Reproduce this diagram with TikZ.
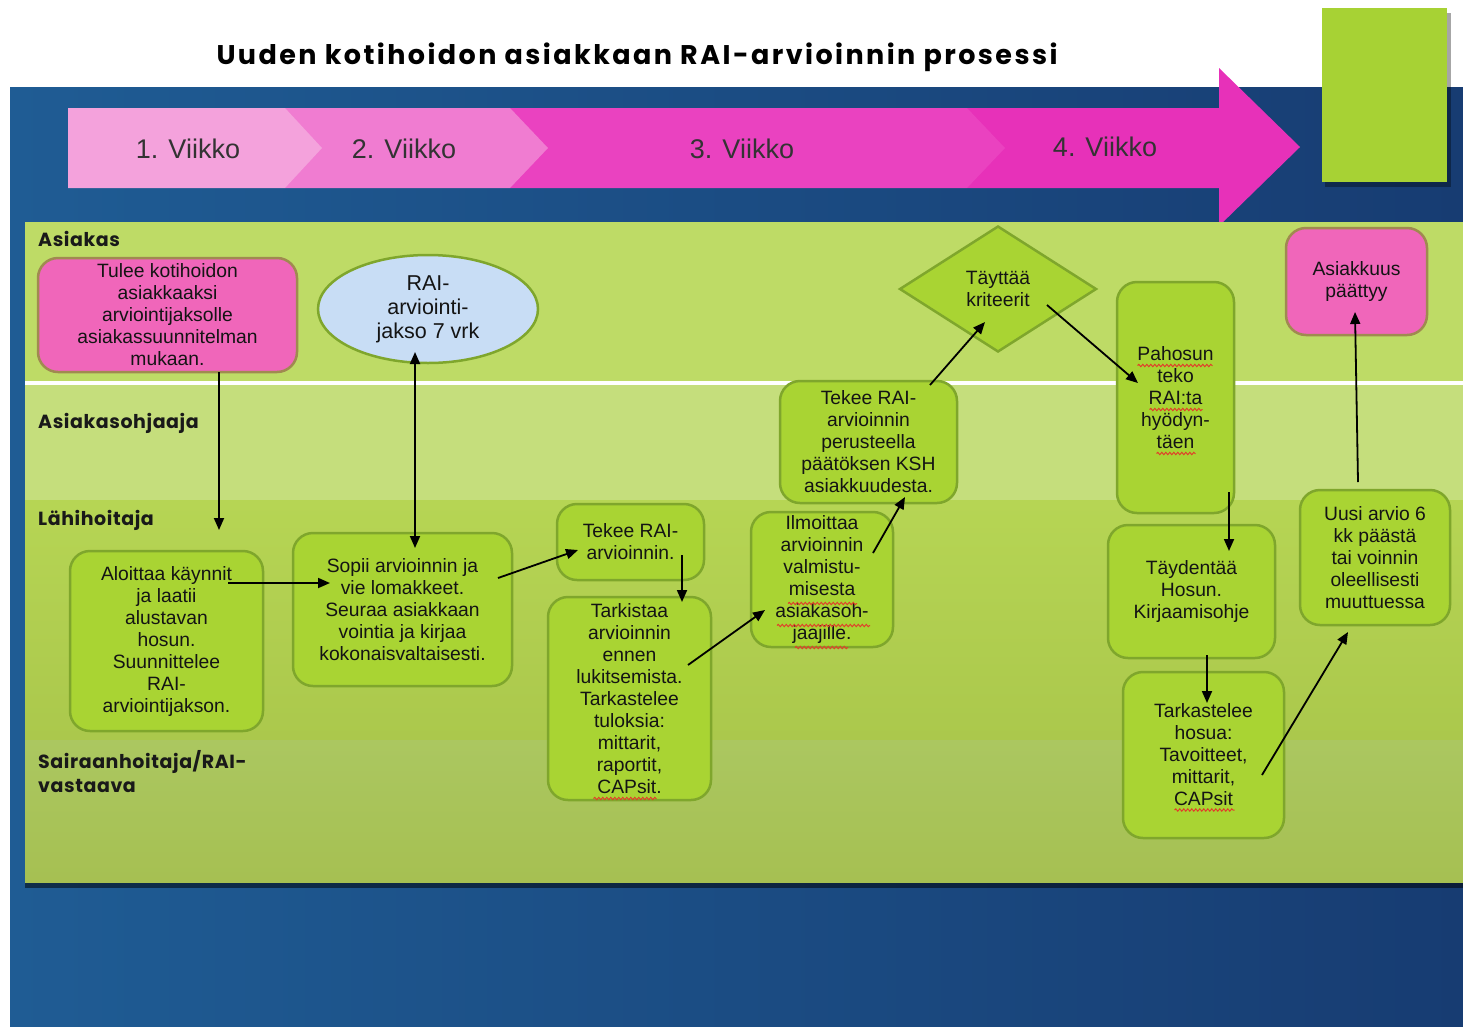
\documentclass[tikz,border=0pt]{standalone}
\usepackage{fontspec}
\setmainfont{Liberation Sans}
\newfontfamily\gothic[LetterSpace=3]{Poppins}
\newfontfamily\gothicT[LetterSpace=9]{Poppins}
\usetikzlibrary{shapes.geometric,arrows.meta,calc,decorations.pathmorphing}
\definecolor{navyL}{HTML}{1F5C94}
\definecolor{navyM}{HTML}{2D82A3}
\definecolor{navyR}{HTML}{173C72}
\definecolor{laneA}{HTML}{BEDB66}
\definecolor{laneB}{HTML}{C5DE7C}
\definecolor{laneC1}{HTML}{B6D554}
\definecolor{laneC2}{HTML}{ABC84C}
\definecolor{laneD1}{HTML}{ABC760}
\definecolor{laneD2}{HTML}{A6C052}
\definecolor{gfill}{HTML}{A9D433}
\definecolor{gborder}{HTML}{7FA62C}
\definecolor{pfill}{HTML}{F066BA}
\definecolor{pborder}{HTML}{A08A50}
\definecolor{efill}{HTML}{C8DDF5}
\definecolor{chevA}{HTML}{F4A2DC}
\definecolor{chevB}{HTML}{F07CD1}
\definecolor{chevC}{HTML}{EA42C0}
\definecolor{chevD}{HTML}{E731B9}
\definecolor{topgreen}{HTML}{A7D234}
\definecolor{txt}{HTML}{141414}
\definecolor{squig}{HTML}{E0402A}
\newcommand\btxt{\fontsize{19.3}{22}\selectfont}
\tikzset{
  gbox/.style={draw=gborder, fill=gfill, line width=2.5pt, rounded corners=20pt,
    align=center, inner sep=0pt, font=\btxt, text=txt},
  pbox/.style={gbox, draw=pborder, fill=pfill},
  arr/.style={line width=1.8pt, -{Triangle[length=12pt,width=10pt]}},
  darr/.style={line width=1.8pt, {Triangle[length=12pt,width=10pt]}-{Triangle[length=12pt,width=10pt]}},
  lanelabel/.style={anchor=north west, inner sep=0pt, font=\gothic\bfseries\fontsize{19}{24}\selectfont, align=left, text=black!90},
  weeklabel/.style={font=\fontsize{27}{30}\selectfont, text=black!80},
  wavy/.style={draw=squig, line width=1pt, decorate, decoration={snake, segment length=4pt, amplitude=1.1pt}},
}
\begin{document}
\begin{tikzpicture}[x=1pt,y=-1pt]
\useasboundingbox (0,0) rectangle (1463,1026);
\fill[white] (0,0) rectangle (1463,1026);
% blue panel
\shade[left color=navyL, middle color=navyM, right color=navyR] (10,87) rectangle (1463,1026);
% top right green block
\fill[black, opacity=0.35] (1325,13) rectangle (1451,187);
\fill[topgreen] (1322,8) rectangle (1447,182);
% title
\node[font=\gothicT\bfseries\fontsize{27}{30}\selectfont] (title) at (637,57) {Uuden kotihoidon asiakkaan RAI-arvioinnin prosessi};
% chevrons
\fill[chevD] (967,108) -- (1219,108) -- (1219,68) -- (1300,147) -- (1219,226) -- (1219,188) -- (967,188) -- cycle;
\fill[chevC] (510,108) -- (967,108) -- (1005,148) -- (967,188) -- (510,188) -- cycle;
\fill[chevB] (285,108) -- (510,108) -- (548,148) -- (510,188) -- (285,188) -- cycle;
\fill[chevA] (68,108) -- (285,108) -- (322,148) -- (285,188) -- (68,188) -- cycle;
\node[weeklabel] (wk1) at (188,149) {1. Viikko};
\node[weeklabel] (wk2) at (404,149) {2. Viikko};
\node[weeklabel] (wk3) at (742,149) {3. Viikko};
\node[weeklabel] (wk4) at (1105,147) {4. Viikko};
% lanes
\fill[black, opacity=0.5] (25,882) rectangle (1463,888);
\fill[laneA] (25,222) rectangle (1463,381);
\fill[white] (25,381) rectangle (1463,385);
\fill[laneB] (25,385) rectangle (1463,500);
\shade[top color=laneC1, bottom color=laneC2] (25,500) rectangle (1463,740);
\shade[top color=laneD1, bottom color=laneD2] (25,740) rectangle (1463,882);
\node[lanelabel] (l1) at (38,231) {Asiakas};
\node[lanelabel] (l2) at (38,413) {Asiakasohjaaja};
\node[lanelabel] (l3) at (38,510) {Lähihoitaja};
\node[lanelabel] (l4) at (38,750) {Sairaanhoitaja/RAI-\\vastaava};
% nodes
\node[pbox, minimum width=259pt, minimum height=114pt] (tulee) at (167.5,315)
  {Tulee kotihoidon\\asiakkaaksi\\arviointijaksolle\\asiakassuunnitelman\\mukaan.};
\node[ellipse, draw=gborder, fill=efill, line width=2.5pt, minimum width=220pt, minimum height=108pt,
  inner sep=0pt, align=center, font=\fontsize{21.5}{24}\selectfont, text=txt] (rai) at (428,309) {RAI-\\arviointi-\\jakso 7 vrk};
\node[diamond, draw=gborder, fill=gfill, line width=2.5pt, minimum width=197pt, minimum height=126pt,
  inner sep=0pt, align=center, font=\btxt, text=txt] (crit) at (998,289) {Täyttää\\kriteerit};
\node[pbox, minimum width=141pt, minimum height=107pt] (loppu) at (1356.5,281.5) {Asiakkuus\\päättyy};
\node[gbox, minimum width=117pt, minimum height=231pt] (pahosun) at (1175.5,397.5)
  {Pahosun\\teko\\RAI:ta\\hyödyn-\\täen};
\node[gbox, minimum width=177pt, minimum height=122pt] (ksh) at (868.5,442)
  {Tekee RAI-\\arvioinnin\\perusteella\\päätöksen KSH\\asiakkuudesta.};
\node[gbox, minimum width=193pt, minimum height=180pt] (aloittaa) at (166.5,641)
  {Aloittaa käynnit\\ja laatii\\alustavan\\hosun.\\Suunnittelee\\RAI-\\arviointijakson.};
\node[gbox, minimum width=219pt, minimum height=153pt] (sopii) at (402.5,609.5)
  {Sopii arvioinnin ja\\vie lomakkeet.\\Seuraa asiakkaan\\vointia ja kirjaa\\kokonaisvaltaisesti.};
\node[gbox, minimum width=147pt, minimum height=76pt] (tekee) at (630.5,542)
  {Tekee RAI-\\arvioinnin.};
\node[gbox, minimum width=163pt, minimum height=203pt] (tarkistaa) at (629.5,698.5)
  {Tarkistaa\\arvioinnin\\ennen\\lukitsemista.\\Tarkastelee\\tuloksia:\\mittarit,\\raportit,\\CAPsit.};
\node[gbox, minimum width=142pt, minimum height=135pt] (ilmoittaa) at (822,579.5)
  {Ilmoittaa\\arvioinnin\\valmistu-\\misesta\\asiakasoh-\\jaajille.};
\node[gbox, minimum width=167pt, minimum height=133pt] (taydentaa) at (1191.5,591.5)
  {Täydentää\\Hosun.\\Kirjaamisohje};
\node[gbox, minimum width=161pt, minimum height=166pt] (tarkastelee) at (1203.5,755)
  {Tarkastelee\\hosua:\\Tavoitteet,\\mittarit,\\CAPsit};
\node[gbox, minimum width=150pt, minimum height=135pt] (uusi) at (1375,557.5)
  {Uusi arvio 6\\kk päästä\\tai voinnin\\oleellisesti\\muuttuessa};
% spell-check squiggles
\draw[wavy] ($(pahosun)+(-38,-32)$) -- ($(pahosun)+(37,-32)$);
\draw[wavy] ($(pahosun)+(-26,12)$) -- ($(pahosun)+(27,12)$);
\draw[wavy] ($(pahosun)+(-19,56)$) -- ($(pahosun)+(20,56)$);
\draw[wavy] ($(ilmoittaa)+(-34,24)$) -- ($(ilmoittaa)+(35,24)$);
\draw[wavy] ($(ilmoittaa)+(-45,46)$) -- ($(ilmoittaa)+(48,46)$);
\draw[wavy] ($(ilmoittaa)+(-27,68)$) -- ($(ilmoittaa)+(26,68)$);
\draw[wavy] ($(tarkistaa)+(-36,100)$) -- ($(tarkistaa)+(27,100)$);
\draw[wavy] ($(tarkastelee)+(-29,55)$) -- ($(tarkastelee)+(31,55)$);
% connectors
\draw[arr] ($(tulee)+(51.5,57)$) -- ($(aloittaa)+(52.5,-111)$);
\draw[darr] ($(rai)+(-13,43)$) -- ($(sopii)+(12.5,-61.5)$);
\draw[arr] ($(aloittaa)+(61.5,-58)$) -- ($(sopii)+(-72.5,-26.5)$);
\draw[arr] ($(sopii)+(95.5,-31.5)$) -- ($(tekee)+(-52.5,8)$);
\draw[arr] ($(tekee)+(51.5,13)$) -- ($(tarkistaa)+(52.5,-96.5)$);
\draw[arr] ($(tarkistaa)+(58.5,-33.5)$) -- ($(ilmoittaa)+(-57,30.5)$);
\draw[arr] ($(ilmoittaa)+(51,-26.5)$) -- ($(ksh)+(36.5,55)$);
\draw[arr] ($(ksh)+(61.5,-57)$) -- ($(crit)+(-13,33)$);
\draw[arr] ($(crit)+(49,16)$) -- ($(pahosun)+(-37.5,-14.5)$);
\draw[arr] ($(pahosun)+(53.5,94.5)$) -- ($(taydentaa)+(37.5,-40.5)$);
\draw[arr] ($(taydentaa)+(15.5,63.5)$) -- ($(tarkastelee)+(3.5,-52)$);
\draw[arr] ($(tarkastelee)+(58.5,20)$) -- ($(uusi)+(-27,74.5)$);
\draw[arr] ($(uusi)+(-17,-75.5)$) -- ($(loppu)+(-1.5,30.5)$);
\end{tikzpicture}
\end{document}
